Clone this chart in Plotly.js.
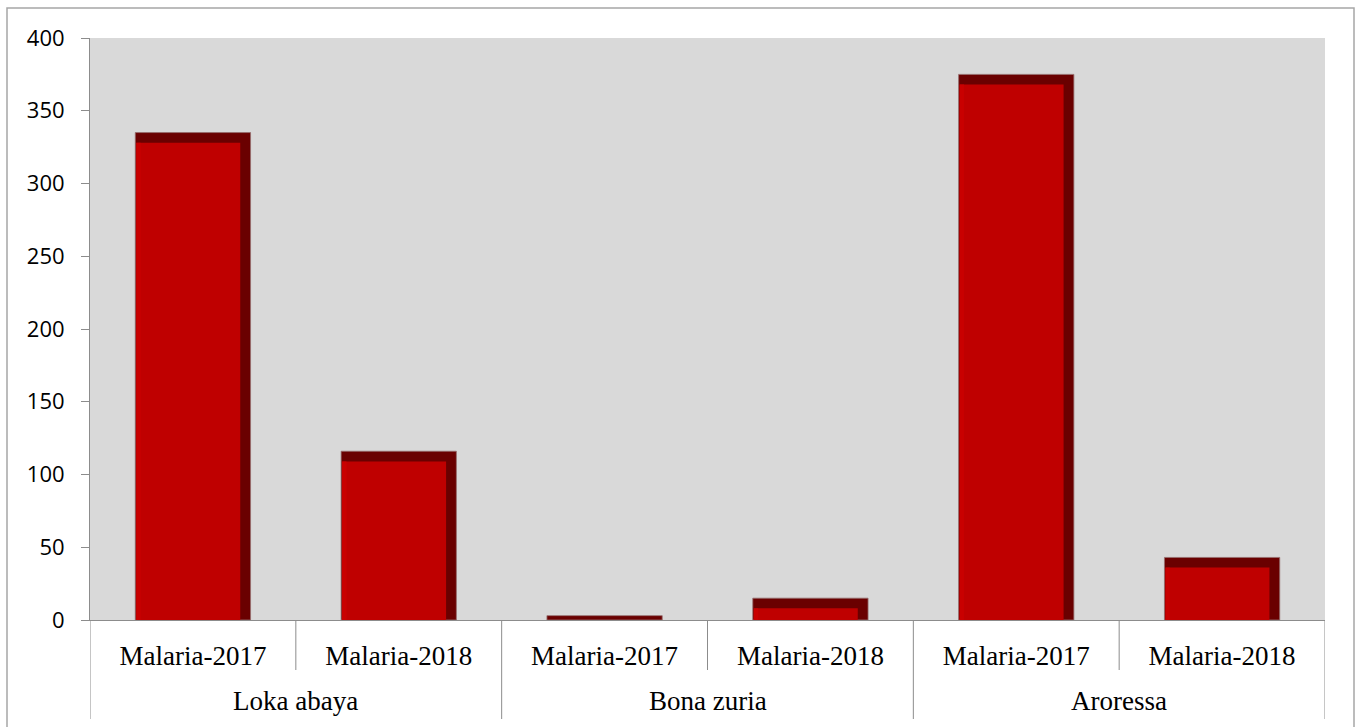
<!DOCTYPE html>
<html>
<head>
<meta charset="utf-8">
<script src="https://cdn.plot.ly/plotly-3.0.1.min.js"></script>
<style>
html,body{margin:0;padding:0;background:#fff;}
#chart{width:1360px;height:727px;}
</style>
</head>
<body>
<div id="chart"></div>
<script>
// Data
const districts = ['Loka abaya','Loka abaya','Bona zuria','Bona zuria','Aroressa','Aroressa'];
const periods = ['Malaria-2017','Malaria-2018','Malaria-2017','Malaria-2018','Malaria-2017','Malaria-2018'];
const cases = [335, 116, 3, 15, 375, 43];
const yTicks = [0, 50, 100, 150, 200, 250, 300, 350, 400];

const idx = periods.map((_, i) => i);
const bevelUnits = 7;   // top bevel depth in data units
const barW = 0.56;
const innerW = 0.506;

const outer = {
  type: 'bar', x: idx, y: cases,
  width: barW, offset: -barW/2,
  marker: {color: '#6a0000', line: {color: 'rgba(150,110,110,0.8)', width: 1}},
  hoverinfo: 'skip'
};
const inner = {
  type: 'bar', x: idx,
  y: cases.map(v => Math.max(v - bevelUnits, 0)),
  width: innerW, offset: -barW/2 + 0.004,
  marker: {color: '#bf0000', line: {width: 0}},
  hoverinfo: 'skip'
};
const leftStrip = {
  type: 'bar', x: idx,
  y: cases.map(v => Math.max(v - bevelUnits, 0)),
  width: 0.02, offset: -barW/2 + 0.006,
  marker: {color: '#c90000', line: {width: 0}},
  hoverinfo: 'skip'
};

// group structure derived from districts
const groups = [];
districts.forEach((d, i) => {
  const g = groups[groups.length - 1];
  if (g && g.name === d) { g.end = i; } else { groups.push({name: d, start: i, end: i}); }
});

const axisGray = '#8c8c8c';
const shapes = [];
const annotations = [];
groups.forEach((g, k) => {
  if (k === 0) {
    shapes.push({type: 'line', xref: 'x', yref: 'paper', x0: g.start - 0.5, x1: g.start - 0.5,
      y0: 0, y1: (620 - 719) / 582, line: {color: axisGray, width: 1}});
  }
  shapes.push({type: 'line', xref: 'x', yref: 'paper', x0: g.end + 0.5, x1: g.end + 0.5,
    y0: 0, y1: (620 - 719) / 582, line: {color: axisGray, width: 1}});
  for (let i = g.start; i < g.end; i++) {
    shapes.push({type: 'line', xref: 'x', yref: 'paper', x0: i + 0.5, x1: i + 0.5,
      y0: 0, y1: (620 - 670) / 582, line: {color: axisGray, width: 1}});
  }
  annotations.push({xref: 'x', yref: 'paper', x: (g.start + g.end) / 2, y: (620 - 701) / 582,
    text: g.name, showarrow: false, xanchor: 'center', yanchor: 'middle',
    font: {family: 'Liberation Serif', size: 27, color: '#000'}});
});
shapes.push({
  type: 'rect', xref: 'paper', yref: 'paper',
  x0: (7 - 90) / 1235, x1: (1354 - 90) / 1235,
  y0: -0.25, y1: (620 - 8) / 582,
  line: {color: '#a6a6a6', width: 1.5},
  fillcolor: 'rgba(0,0,0,0)', layer: 'below'
});

const layout = {
  width: 1360, height: 727,
  margin: {l: 90, r: 35, t: 38, b: 107},
  paper_bgcolor: '#ffffff',
  plot_bgcolor: '#d9d9d9',
  barmode: 'overlay',
  showlegend: false,
  font: {family: 'Liberation Serif', color: '#000'},
  xaxis: {
    range: [-0.5, periods.length - 0.5],
    tickvals: idx, ticktext: periods,
    showline: true, linecolor: axisGray, linewidth: 1,
    ticks: '', ticklabelstandoff: 12,
    tickfont: {family: 'Liberation Serif', size: 27, color: '#000'},
    showgrid: false, zeroline: false
  },
  yaxis: {
    range: [0, 400],
    tickvals: yTicks,
    showline: true, linecolor: axisGray, linewidth: 1,
    ticks: 'outside', ticklen: 8, tickcolor: axisGray,
    showgrid: false, zeroline: false,
    ticklabelstandoff: 12,
    tickfont: {family: 'Open Sans', size: 22, color: '#000'}
  },
  shapes: shapes,
  annotations: annotations
};

Plotly.newPlot('chart', [outer, inner, leftStrip], layout, {displayModeBar: false, staticPlot: true});
</script>
</body>
</html>
